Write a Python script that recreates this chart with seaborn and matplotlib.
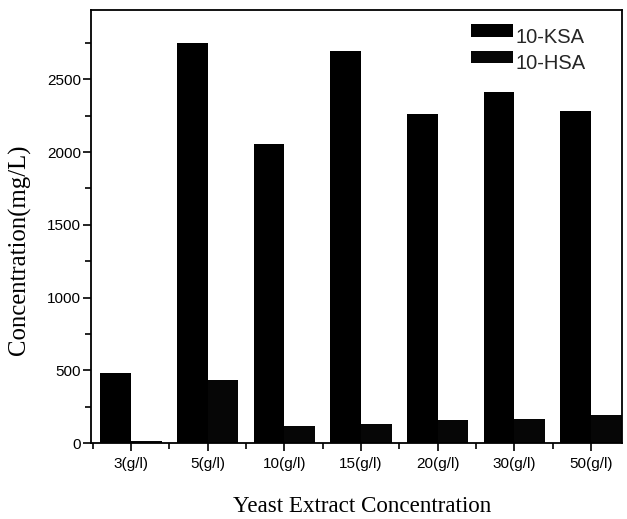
import matplotlib
matplotlib.use("Agg")
import matplotlib.pyplot as plt
from matplotlib.ticker import FixedLocator, MultipleLocator
from matplotlib.transforms import Affine2D
import seaborn as sns
import pandas as pd

# Yeast extract levels and measured concentrations (mg/L)
media = ["3(g/l)", "5(g/l)", "10(g/l)", "15(g/l)", "20(g/l)", "30(g/l)", "50(g/l)"]
ksa = [480, 2750, 2055, 2695, 2258, 2410, 2285]
hsa = [15, 435, 120, 130, 160, 165, 195]
series = ["10-KSA", "10-HSA"]

df = pd.DataFrame({
    "medium": media * 2,
    "conc": ksa + hsa,
    "acid": [series[0]] * len(media) + [series[1]] * len(media),
})

sns.set_style("ticks")
plt.rcParams["font.family"] = ["Liberation Sans", "DejaVu Sans"]

fig = plt.figure(figsize=(6.27, 5.19), dpi=100)
ax = fig.add_axes([0.1456, 0.1459, 0.8460, 0.8348])

sns.barplot(data=df, x="medium", y="conc", hue="acid", order=media,
            hue_order=series, palette=["#000000", "#060606"], width=0.8,
            saturation=1, linewidth=0, ax=ax)

ax.set_ylim(0, 2975)
ax.set_xlim(-0.52, 6.4)

ax.yaxis.set_major_locator(FixedLocator([0, 500, 1000, 1500, 2000, 2500]))
ax.yaxis.set_minor_locator(MultipleLocator(250))
ax.xaxis.set_minor_locator(FixedLocator([i - 0.5 for i in range(len(media) + 1)]))

ax.tick_params(axis="both", which="major", direction="out", length=6,
               width=1.2, color="black", labelsize=11, labelcolor="black")
ax.tick_params(axis="both", which="minor", direction="out", length=4,
               width=1.2, color="black")
ax.tick_params(axis="x", which="major", pad=4)
ax.tick_params(axis="y", which="major", pad=1.5)

for s in ax.spines.values():
    s.set_visible(True)
    s.set_color("black")
    s.set_linewidth(1.3)

serif = ["Liberation Serif", "DejaVu Serif"]
ax.set_xlabel("Yeast Extract Concentration", fontsize=16.6, family=serif,
              color="black")
ax.set_ylabel("Concentration(mg/L)", fontsize=17.8, family=serif,
              color="black")
ax.xaxis.set_label_coords(0.511, -0.122)
ax.yaxis.set_label_coords(-0.114, 0.446)

handles, labels = ax.get_legend_handles_labels()
leg = ax.legend(handles, labels, loc="upper left", bbox_to_anchor=(0.715, 0.971),
                frameon=False, borderaxespad=0, borderpad=0, fontsize=14.5,
                handlelength=2.1, handleheight=0.6, handletextpad=0.15,
                labelspacing=0.37)
# legend labels sit a little below the centre of their swatches
for t in leg.get_texts():
    t.set_transform(t.get_transform() + Affine2D().translate(0, -5))

fig.savefig("out.png", dpi=100)
